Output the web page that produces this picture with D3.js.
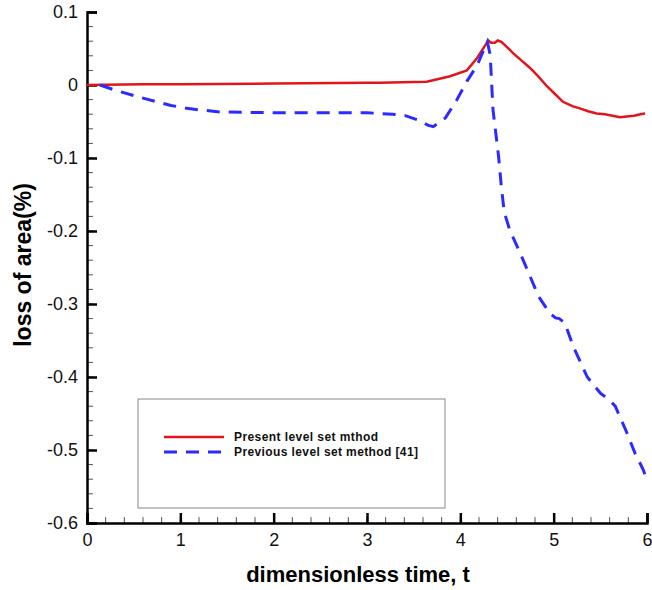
<!DOCTYPE html>
<html>
<head>
<meta charset="utf-8">
<script src="https://cdn.jsdelivr.net/npm/d3@7"></script>
<style>
  body { margin: 0; background: #fff; }
  text { font-family: "Liberation Sans", Arial, sans-serif; }
</style>
</head>
<body>
<div id="chart"></div>
<script>
// values
var presentT = [0, 0.6, 1, 2, 3, 3.14, 3.5, 3.64, 3.89, 4.07, 4.18, 4.28, 4.30, 4.33, 4.37, 4.40, 4.44, 4.50, 4.57, 4.66, 4.75, 4.84, 4.93, 5.02, 5.10, 5.20, 5.28, 5.37, 5.46, 5.55, 5.63, 5.71, 5.78, 5.86, 5.93, 5.98];
var presentV = [0, 0.001, 0.001, 0.002, 0.003, 0.003, 0.004, 0.0045, 0.012, 0.02, 0.037, 0.057, 0.061, 0.058, 0.058, 0.061, 0.059, 0.052, 0.043, 0.033, 0.023, 0.011, -0.002, -0.013, -0.023, -0.029, -0.032, -0.036, -0.039, -0.040, -0.042, -0.044, -0.043, -0.042, -0.040, -0.039];

var previousT = [0.14, 0.3, 0.57, 0.75, 0.9, 1.07, 1.2, 1.43, 2, 2.5, 3, 3.27, 3.41, 3.57, 3.65, 3.71, 3.84, 3.96, 4.07, 4.18, 4.25, 4.29, 4.32, 4.35, 4.41, 4.44, 4.47, 4.53, 4.64, 4.75, 4.84, 4.96, 5.02, 5.06, 5.12, 5.21, 5.36, 5.5, 5.6, 5.66, 5.69, 5.78, 5.87, 5.96, 6.0];
var previousV = [0, -0.007, -0.017, -0.023, -0.028, -0.032, -0.034, -0.037, -0.038, -0.038, -0.038, -0.04, -0.042, -0.049, -0.055, -0.057, -0.045, -0.021, 0.005, 0.027, 0.048, 0.059, 0.041, -0.034, -0.098, -0.14, -0.174, -0.199, -0.23, -0.263, -0.29, -0.313, -0.319, -0.32, -0.326, -0.358, -0.40, -0.422, -0.432, -0.44, -0.449, -0.475, -0.504, -0.527, -0.542];

var seriesNames = ["Present level set mthod", "Previous level set method [41]"];
var xTicks = [0, 1, 2, 3, 4, 5, 6];
var yTicks = [0.1, 0, -0.1, -0.2, -0.3, -0.4, -0.5, -0.6];

var svgWidth = 652, svgHeight = 590;
var margin = { top: 12, right: 5, bottom: 67, left: 87 };
var width = 647 - margin.left;
var height = svgHeight - margin.top - margin.bottom;

var svg = d3.select("#chart").append("svg")
  .attr("width", svgWidth)
  .attr("height", svgHeight);

var chartGroup = svg.append("g")
  .attr("transform", `translate(${margin.left}, ${margin.top})`);

var xScale = d3.scaleLinear().domain([0, 6]).range([0, width]);
var yScale = d3.scaleLinear().domain([-0.6, 0.1]).range([height, 0]);

// minor ticks
chartGroup.append("g")
  .selectAll("line")
  .data(d3.range(-0.6, 0.1001, 0.02))
  .enter().append("line")
  .attr("x1", 0).attr("x2", 6)
  .attr("y1", d => yScale(d)).attr("y2", d => yScale(d))
  .attr("stroke", "#555").attr("stroke-width", 1);

chartGroup.append("g")
  .selectAll("line")
  .data(d3.range(0, 6.001, 0.2))
  .enter().append("line")
  .attr("x1", d => xScale(d)).attr("x2", d => xScale(d))
  .attr("y1", height).attr("y2", height - 6)
  .attr("stroke", "#555").attr("stroke-width", 1);

// plain hyphen for negatives, like the original
var fmt = d => d === 0 ? "0" : d3.format(".1f")(d).replace("\u2212", "-");

// axes
var yAxis = d3.axisRight(yScale).tickValues(yTicks).tickSize(10).tickFormat(fmt);
var yG = chartGroup.append("g").call(yAxis);
yG.select(".domain").attr("stroke-width", 2.5).attr("stroke", "#000");
yG.selectAll(".tick line").attr("stroke-width", 2.5).attr("stroke", "#000");
yG.selectAll(".tick text")
  .attr("x", -9).attr("text-anchor", "end")
  .attr("font-size", "18px").attr("fill", "#111");

var xAxis = d3.axisTop(xScale).tickValues(xTicks).tickSize(10).tickFormat(d3.format("d"));
var xG = chartGroup.append("g")
  .attr("transform", `translate(0, ${height})`)
  .call(xAxis);
xG.select(".domain").attr("stroke-width", 2.5).attr("stroke", "#000");
xG.selectAll(".tick line").attr("stroke-width", 2.5).attr("stroke", "#000");
xG.selectAll(".tick text")
  .attr("y", 10).attr("dy", "0.71em")
  .attr("font-size", "18px").attr("fill", "#111");

// lines
var line = d3.line()
  .x(d => xScale(d[0]))
  .y(d => yScale(d[1]));

chartGroup.append("path")
  .datum(presentT.map((t, i) => [t, presentV[i]]))
  .attr("d", line)
  .attr("fill", "none")
  .attr("stroke", "#e3151c")
  .attr("stroke-width", 2.5);

chartGroup.append("path")
  .datum(previousT.map((t, i) => [t, previousV[i]]))
  .attr("d", line)
  .attr("fill", "none")
  .attr("stroke", "#2b2bff")
  .attr("stroke-width", 3)
  .attr("stroke-dasharray", "13,9");

// legend
var legend = svg.append("g");
legend.append("rect")
  .attr("x", 138).attr("y", 399)
  .attr("width", 307).attr("height", 109)
  .attr("fill", "#fff").attr("stroke", "#888").attr("stroke-width", 1);

var legendStyles = [
  { color: "#e3151c", dash: null, w: 2.5 },
  { color: "#2b2bff", dash: "13,9", w: 3 }
];
seriesNames.forEach(function(name, i) {
  var y = 437 + i * 15;
  legend.append("line")
    .attr("x1", 164).attr("x2", 224)
    .attr("y1", y).attr("y2", y)
    .attr("stroke", legendStyles[i].color)
    .attr("stroke-width", legendStyles[i].w)
    .attr("stroke-dasharray", legendStyles[i].dash);
  legend.append("text")
    .attr("x", 234).attr("y", y + 4)
    .attr("font-size", "12px")
    .attr("font-weight", "bold")
    .attr("fill", "#111")
    .attr("textLength", i === 0 ? 144 : 184)
    .text(name);
});

// axis labels
svg.append("text")
  .attr("transform", "rotate(-90)")
  .attr("x", -265)
  .attr("y", 31)
  .attr("text-anchor", "middle")
  .attr("font-size", "23px")
  .attr("font-weight", "bold")
  .text("loss of area(%)");

svg.append("text")
  .attr("x", 358)
  .attr("y", 582)
  .attr("text-anchor", "middle")
  .attr("font-size", "22px")
  .attr("font-weight", "bold")
  .text("dimensionless time, t");
</script>
</body>
</html>
